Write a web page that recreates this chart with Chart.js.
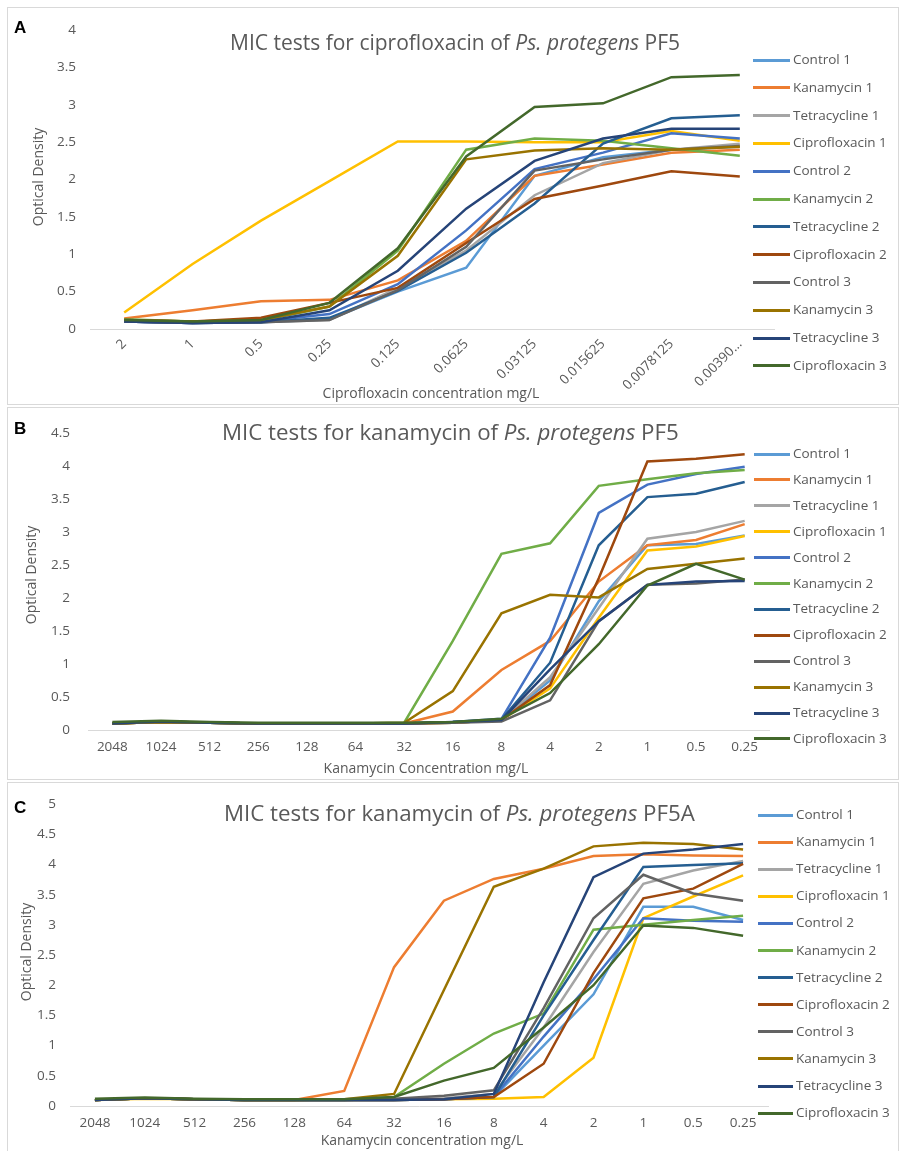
<!DOCTYPE html>
<html>
<head>
<meta charset="utf-8">
<script src="https://cdn.jsdelivr.net/npm/chart.js@4.4.1/dist/chart.umd.min.js"></script>
<style>
  body { margin: 0; background: #fff; }
  #page { position: relative; width: 903px; height: 1151px; overflow: hidden; font-family: "Open Sans", sans-serif; color: #595959; }
  .frame { position: absolute; border: 1px solid #d9d9d9; box-sizing: border-box; }
  .box { position: absolute; left: 0; width: 903px; }
  .letter { position: absolute; font-family: "Liberation Sans", Arial, sans-serif; font-weight: bold; font-size: 17px; color: #000; line-height: 1; }
  .title { position: absolute; line-height: 1; white-space: nowrap; transform: translateY(-50%); }
  .xtitle { position: absolute; font-size: 14px; line-height: 1; white-space: nowrap; transform: translate(-50%, -50%); }
  .ytitle { position: absolute; font-size: 14px; line-height: 1; white-space: nowrap; transform: translate(-50%, -50%) rotate(-90deg); }
  .leg-line { position: absolute; height: 3px; }
  .leg-text { position: absolute; font-size: 13.5px; line-height: 1; white-space: nowrap; transform: translateY(-50%); }
</style>
</head>
<body>
<div id="page">
  <div class="frame" style="left:7px;top:7px;width:892px;height:398px"></div>
  <div class="frame" style="left:7px;top:407px;width:892px;height:373px"></div>
  <div class="frame" style="left:7px;top:782px;width:892px;height:380px"></div>

  <div class="box" style="top:8px;height:397px"><canvas id="chartA"></canvas></div>
  <div class="box" style="top:407px;height:373px"><canvas id="chartB"></canvas></div>
  <div class="box" style="top:782px;height:369px"><canvas id="chartC"></canvas></div>

  <div class="letter" style="left:14px;top:19px">A</div>
  <div class="letter" style="left:14px;top:420px">B</div>
  <div class="letter" style="left:14px;top:799px">C</div>

  <div class="title" style="left:230px;top:42px;font-size:21px">MIC tests for ciprofloxacin of <i>Ps. protegens</i> PF5</div>
  <div class="title" style="left:222px;top:432px;font-size:22.3px">MIC tests for kanamycin of <i>Ps. protegens</i> PF5</div>
  <div class="title" style="left:224px;top:813px;font-size:22.3px">MIC tests for kanamycin of <i>Ps. protegens</i> PF5A</div>

  <div class="ytitle" style="left:38px;top:177px">Optical Density</div>
  <div class="ytitle" style="left:31px;top:575px">Optical Density</div>
  <div class="ytitle" style="left:26px;top:952px">Optical Density</div>

  <div class="xtitle" style="left:431px;top:393px">Ciprofloxacin concentration mg/L</div>
  <div class="xtitle" style="left:426px;top:768px">Kanamycin Concentration mg/L</div>
  <div class="xtitle" style="left:422px;top:1140px">Kanamycin concentration mg/L</div>

  <div id="legA"></div>
  <div id="legB"></div>
  <div id="legC"></div>
</div>

<script>
// series names and Excel colours, same order for every panel
const seriesNames = ["Control 1", "Kanamycin 1", "Tetracycline 1", "Ciprofloxacin 1",
  "Control 2", "Kanamycin 2", "Tetracycline 2", "Ciprofloxacin 2",
  "Control 3", "Kanamycin 3", "Tetracycline 3", "Ciprofloxacin 3"];
const seriesColors = ["#5B9BD5", "#ED7D31", "#A5A5A5", "#FFC000",
  "#4472C4", "#70AD47", "#255E91", "#9E480E",
  "#636363", "#997300", "#264478", "#43682B"];

// A - ciprofloxacin, PF5
const ciproLabels = ["2", "1", "0.5", "0.25", "0.125", "0.0625", "0.03125", "0.015625", "0.0078125", "0.00390..."];
const aControl1 = [0.10, 0.08, 0.09, 0.13, 0.50, 0.82, 2.05, 2.30, 2.40, 2.44];
const aKanamycin1 = [0.14, 0.25, 0.37, 0.39, 0.65, 1.18, 2.05, 2.20, 2.36, 2.40];
const aTetracycline1 = [0.10, 0.08, 0.09, 0.12, 0.55, 1.05, 1.79, 2.22, 2.40, 2.48];
const aCiprofloxacin1 = [0.22, 0.87, 1.45, 1.98, 2.51, 2.51, 2.50, 2.50, 2.65, 2.52];
const aControl2 = [0.10, 0.08, 0.10, 0.20, 0.60, 1.32, 2.14, 2.36, 2.62, 2.55];
const aKanamycin2 = [0.13, 0.10, 0.11, 0.30, 1.05, 2.40, 2.55, 2.52, 2.42, 2.32];
const aTetracycline2 = [0.10, 0.08, 0.09, 0.15, 0.51, 1.02, 1.68, 2.48, 2.82, 2.86];
const aCiprofloxacin2 = [0.12, 0.10, 0.15, 0.35, 0.55, 1.15, 1.74, 1.92, 2.11, 2.04];
const aControl3 = [0.10, 0.08, 0.09, 0.12, 0.52, 1.10, 2.12, 2.27, 2.40, 2.45];
const aKanamycin3 = [0.12, 0.10, 0.12, 0.30, 0.98, 2.27, 2.39, 2.42, 2.40, 2.44];
const aTetracycline3 = [0.10, 0.08, 0.09, 0.25, 0.78, 1.61, 2.25, 2.55, 2.68, 2.68];
const aCiprofloxacin3 = [0.12, 0.10, 0.12, 0.35, 1.08, 2.31, 2.97, 3.02, 3.37, 3.40];

// B - kanamycin, PF5
const kanaLabels = ["2048", "1024", "512", "256", "128", "64", "32", "16", "8", "4", "2", "1", "0.5", "0.25"];
const bControl1 = [0.10, 0.12, 0.11, 0.10, 0.10, 0.10, 0.10, 0.11, 0.15, 0.75, 1.95, 2.80, 2.82, 2.95];
const bKanamycin1 = [0.10, 0.12, 0.11, 0.10, 0.10, 0.10, 0.10, 0.28, 0.91, 1.35, 2.25, 2.80, 2.88, 3.12];
const bTetracycline1 = [0.10, 0.12, 0.11, 0.10, 0.10, 0.10, 0.10, 0.11, 0.15, 0.80, 1.85, 2.90, 3.00, 3.17];
const bCiprofloxacin1 = [0.10, 0.12, 0.11, 0.10, 0.10, 0.10, 0.10, 0.11, 0.15, 0.63, 1.70, 2.72, 2.78, 2.94];
const bControl2 = [0.10, 0.13, 0.11, 0.10, 0.10, 0.10, 0.10, 0.12, 0.17, 1.40, 3.29, 3.72, 3.88, 3.99];
const bKanamycin2 = [0.10, 0.12, 0.11, 0.10, 0.10, 0.10, 0.11, 1.35, 2.67, 2.83, 3.70, 3.80, 3.89, 3.94];
const bTetracycline2 = [0.10, 0.13, 0.11, 0.10, 0.10, 0.10, 0.10, 0.12, 0.16, 1.02, 2.80, 3.53, 3.58, 3.76];
const bCiprofloxacin2 = [0.10, 0.12, 0.11, 0.10, 0.10, 0.10, 0.10, 0.11, 0.15, 0.68, 2.30, 4.07, 4.11, 4.18];
const bControl3 = [0.10, 0.12, 0.11, 0.10, 0.10, 0.10, 0.10, 0.11, 0.13, 0.45, 1.65, 2.20, 2.22, 2.28];
const bKanamycin3 = [0.10, 0.12, 0.11, 0.10, 0.10, 0.10, 0.11, 0.59, 1.77, 2.05, 2.01, 2.44, 2.52, 2.60];
const bTetracycline3 = [0.10, 0.13, 0.11, 0.10, 0.10, 0.10, 0.10, 0.12, 0.15, 0.92, 1.65, 2.20, 2.25, 2.26];
const bCiprofloxacin3 = [0.12, 0.14, 0.12, 0.11, 0.11, 0.11, 0.11, 0.12, 0.17, 0.56, 1.30, 2.19, 2.52, 2.28];

// C - kanamycin, PF5A
const cControl1 = [0.10, 0.13, 0.11, 0.10, 0.10, 0.10, 0.10, 0.11, 0.15, 1.00, 1.85, 3.30, 3.30, 3.08];
const cKanamycin1 = [0.10, 0.13, 0.11, 0.10, 0.10, 0.25, 2.30, 3.40, 3.76, 3.93, 4.14, 4.17, 4.15, 4.14];
const cTetracycline1 = [0.10, 0.13, 0.11, 0.10, 0.10, 0.10, 0.11, 0.13, 0.20, 1.30, 2.55, 3.68, 3.90, 4.06];
const cCiprofloxacin1 = [0.10, 0.12, 0.11, 0.10, 0.10, 0.10, 0.10, 0.11, 0.12, 0.15, 0.80, 3.11, 3.47, 3.82];
const cControl2 = [0.10, 0.13, 0.11, 0.10, 0.10, 0.10, 0.10, 0.11, 0.15, 1.15, 2.10, 3.11, 3.07, 3.05];
const cKanamycin2 = [0.10, 0.13, 0.11, 0.10, 0.10, 0.10, 0.15, 0.70, 1.20, 1.53, 2.92, 3.00, 3.08, 3.15];
const cTetracycline2 = [0.10, 0.13, 0.11, 0.10, 0.10, 0.10, 0.10, 0.11, 0.15, 1.50, 2.75, 3.96, 3.99, 4.02];
const cCiprofloxacin2 = [0.10, 0.13, 0.11, 0.10, 0.10, 0.10, 0.10, 0.11, 0.15, 0.70, 2.20, 3.44, 3.60, 4.01];
const cControl3 = [0.10, 0.13, 0.11, 0.10, 0.10, 0.10, 0.12, 0.17, 0.26, 1.62, 3.11, 3.83, 3.52, 3.40];
const cKanamycin3 = [0.10, 0.13, 0.11, 0.10, 0.10, 0.11, 0.20, 1.92, 3.63, 3.93, 4.30, 4.36, 4.34, 4.25];
const cTetracycline3 = [0.10, 0.13, 0.11, 0.10, 0.10, 0.10, 0.10, 0.11, 0.20, 2.05, 3.79, 4.18, 4.25, 4.34];
const cCiprofloxacin3 = [0.12, 0.14, 0.12, 0.11, 0.11, 0.11, 0.15, 0.42, 0.63, 1.30, 2.00, 2.99, 2.95, 2.82];

const panelA = [aControl1, aKanamycin1, aTetracycline1, aCiprofloxacin1, aControl2, aKanamycin2,
  aTetracycline2, aCiprofloxacin2, aControl3, aKanamycin3, aTetracycline3, aCiprofloxacin3];
const panelB = [bControl1, bKanamycin1, bTetracycline1, bCiprofloxacin1, bControl2, bKanamycin2,
  bTetracycline2, bCiprofloxacin2, bControl3, bKanamycin3, bTetracycline3, bCiprofloxacin3];
const panelC = [cControl1, cKanamycin1, cTetracycline1, cCiprofloxacin1, cControl2, cKanamycin2,
  cTetracycline2, cCiprofloxacin2, cControl3, cKanamycin3, cTetracycline3, cCiprofloxacin3];

const tickFont = { family: "Open Sans", size: 13.5 };

function makeChart(id, labels, series, yMax, opt) {
  const datasets = series.map((vals, i) => ({
    label: seriesNames[i],
    data: vals,
    borderColor: seriesColors[i],
    backgroundColor: seriesColors[i],
    borderWidth: 2.5,
    pointRadius: 0,
    tension: 0,
    order: series.length - i   // later series on top, like Excel
  }));

  return new Chart(document.getElementById(id), {
    type: "line",
    data: { labels: labels, datasets: datasets },
    options: {
      responsive: true,
      maintainAspectRatio: false,
      animation: false,
      layout: { padding: opt.padding },
      plugins: { legend: { display: false }, tooltip: { enabled: false } },
      scales: {
        x: {
          offset: true,
          grid: { display: false, drawTicks: false },
          border: { display: true, color: "#d9d9d9", width: 1 },
          ticks: {
            color: "#595959", font: tickFont, autoSkip: false,
            minRotation: opt.rotate, maxRotation: opt.rotate, padding: opt.xPad
          },
          afterFit: (scale) => { scale.height = opt.xHeight; }
        },
        y: {
          min: 0, max: yMax,
          grid: { display: false, drawTicks: false },
          border: { display: false },
          ticks: {
            stepSize: 0.5, color: "#595959", font: tickFont, padding: opt.yPad,
            callback: (v) => String(Math.round(v * 10) / 10)
          },
          afterFit: (scale) => { scale.width = opt.yWidth; }
        }
      }
    }
  });
}

function makeLegend(id, lineX, textX, y0, gap) {
  const box = document.getElementById(id);
  seriesNames.forEach((name, i) => {
    const y = y0 + i * gap;
    const ln = document.createElement("div");
    ln.className = "leg-line";
    ln.style.left = lineX + "px";
    ln.style.width = (textX - lineX - 3) + "px";
    ln.style.top = (y - 1.5) + "px";
    ln.style.background = seriesColors[i];
    box.appendChild(ln);
    const tx = document.createElement("div");
    tx.className = "leg-text";
    tx.style.left = textX + "px";
    tx.style.top = y + "px";
    tx.textContent = name;
    box.appendChild(tx);
  });
}

makeChart("chartA", ciproLabels, panelA, 4,
  { padding: { top: 17, left: 40, right: 129, bottom: 0 }, yWidth: 50, yPad: 14, xHeight: 76, xPad: 7, rotate: 45 });
makeChart("chartB", kanaLabels, panelB, 4.5,
  { padding: { top: 13, left: 40, right: 134, bottom: 0 }, yWidth: 48, yPad: 18, xHeight: 50, xPad: 9, rotate: 0 });
makeChart("chartC", kanaLabels, panelC, 5,
  { padding: { top: 17, left: 30, right: 135, bottom: 0 }, yWidth: 40, yPad: 14, xHeight: 45, xPad: 9, rotate: 0 });

makeLegend("legA", 753, 793, 60, 27.8);
makeLegend("legB", 754, 793, 454, 25.9);
makeLegend("legC", 758, 796, 815, 27.1);
</script>
</body>
</html>
